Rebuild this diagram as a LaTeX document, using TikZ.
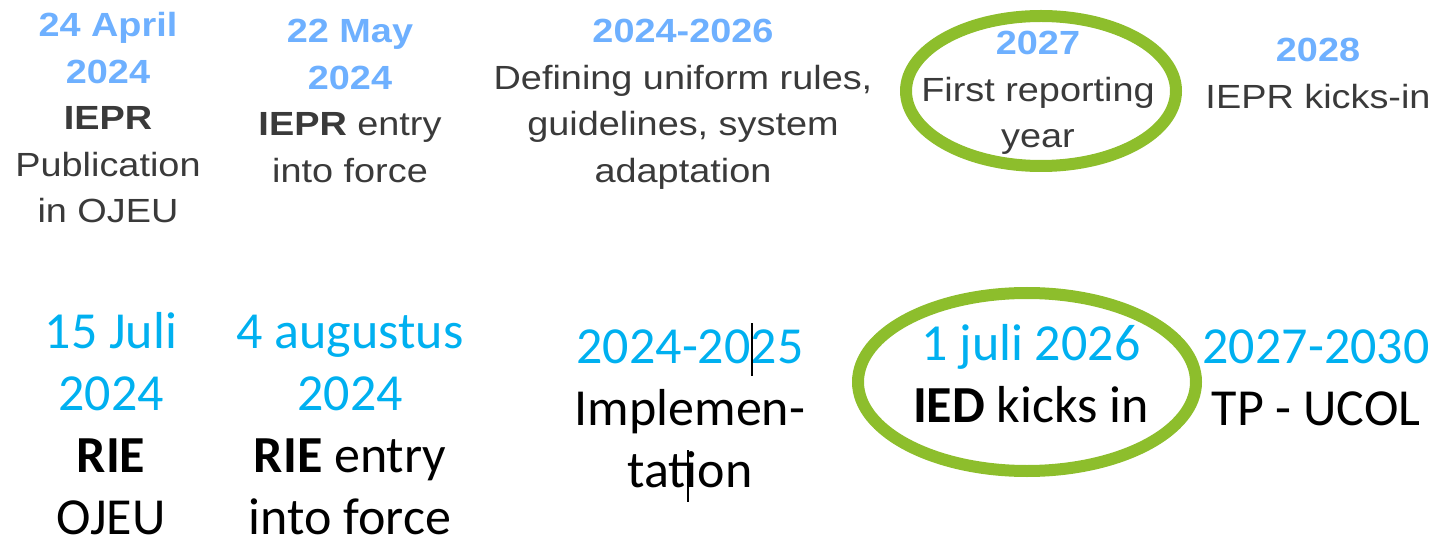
\documentclass[tikz,border=0pt]{standalone}
\usepackage{fontspec}
\newfontfamily\ieprfont[FakeStretch=1.13]{Liberation Sans}
\newfontfamily\riefont{Carlito}
\definecolor{ieprblue}{RGB}{110,176,255}
\definecolor{ieprgrey}{RGB}{58,58,58}
\definecolor{riecyan}{RGB}{0,176,240}
\definecolor{ringgreen}{RGB}{141,190,44}
\newcommand{\ieprdate}[1]{\textcolor{ieprblue}{\bfseries #1}}
\newcommand{\riedate}[1]{\textcolor{riecyan}{#1}}

\begin{document}
\begin{tikzpicture}[x=0.5pt,y=-0.5pt,
    iepr/.style={anchor=north, inner sep=0pt, align=center, text=ieprgrey,
      font=\ieprfont\fontsize{16.75}{23.25}\selectfont},
    rie/.style={anchor=north, inner sep=0pt, align=center, text=black,
      font=\riefont\fontsize{26}{31}\selectfont},
    ring/.style={draw=ringgreen, line width=6pt}]
    \useasboundingbox (0,0) rectangle (1440,545);
    % IEPR row
    \node[iepr] (ieprpubl) at (108,12) {\ieprdate{24 April}\\\ieprdate{2024}\\\textbf{IEPR}\\Publication\\in OJEU};
    \node[iepr] (ieprforce) at (350,19) {\ieprdate{22 May}\\\ieprdate{2024}\\\textbf{IEPR} entry\\into force};
    \node[iepr] (ieprrules) at (683,19) {\ieprdate{2024-2026}\\Defining uniform rules,\\guidelines, system\\adaptation};
    \node[iepr] (ieprreport) at (1038,31) {\ieprdate{2027}\\First reporting\\year};
    \node[iepr] (ieprkick) at (1318,38) {\ieprdate{2028}\\IEPR kicks-in};
    \draw[ring] (1041,91) ellipse [x radius=135, y radius=75];
    % RIE row
    \node[rie] (riepubl) at (111,312) {\riedate{15 Juli}\\\riedate{2024}\\\textbf{RIE}\\OJEU};
    \node[rie] (rieforce) at (350,315) {\riedate{4 augustus}\\\riedate{2024}\\\textbf{RIE} entry\\into force};
    \node[rie] (rieimpl) at (690,329) {\riedate{2024-2025}\\Implemen-\\tation};
    \node[rie] (iedkick) at (1031,324) {\riedate{1 juli 2026}\\\textbf{IED} kicks in};
    \node[rie] (tpucol) at (1316,329) {\riedate{2027-2030}\\TP - UCOL};
    \draw[ring] (1027,382) ellipse [x radius=169, y radius=89];
    \draw[line width=0.75pt] (752,323) -- (752,376);
    \draw[line width=0.75pt] (688,450) -- (688,502);
\end{tikzpicture}
\end{document}
